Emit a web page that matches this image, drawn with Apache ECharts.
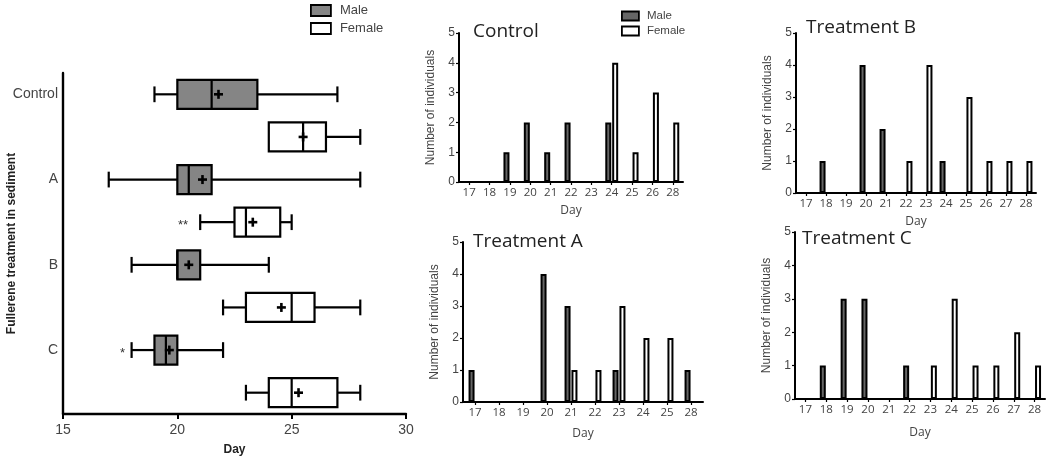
<!DOCTYPE html>
<html><head><meta charset="utf-8">
<script src="https://cdn.jsdelivr.net/npm/echarts@6/dist/echarts.min.js"></script>
<style>html,body{margin:0;padding:0;background:#fff}#c{width:1050px;height:465px}</style>
</head><body><div id="c"></div>
<script>
// ---- Box plot (left panel) ----
const boxGroups = ['Control', 'A', 'B', 'C'];
const boxSexes = ['Male', 'Female'];
// [min, Q1, median, Q3, max]
const maleBox = [[19, 20, 21.5, 23.5, 27], [17, 20, 20.5, 21.5, 28], [18, 20, 20, 21, 24], [18, 19, 19.5, 20, 22]];
const femaleBox = [[24, 24, 25.5, 26.5, 28], [21, 22.5, 23, 24.5, 25], [22, 23, 25, 26, 28], [23, 24, 25, 27, 28]];
const maleMean = [21.8, 21.1, 20.5, 19.65];
const femaleMean = [25.5, 23.3, 24.55, 25.3];
const sigGroups = ['A', 'C'];
const sigSexes = ['Female', 'Male'];
const sigText = ['**', '*'];
const sigDay = [20.25, 17.6];
const boxTicks = [15, 20, 25, 30];

// ---- Histograms ----
const controlDays = ['17', '18', '19', '20', '21', '22', '23', '24', '25', '26', '28'];
const controlMale = [0, 0, 1, 2, 1, 2, 0, 2, 0, 0, 0];
const controlFemale = [0, 0, 0, 0, 0, 0, 0, 4, 1, 3, 2];
const aDays = ['17', '18', '19', '20', '21', '22', '23', '24', '25', '28'];
const aMale = [1, 0, 0, 4, 3, 0, 1, 0, 0, 1];
const aFemale = [0, 0, 0, 0, 1, 1, 3, 2, 2, 0];
const bDays = ['17', '18', '19', '20', '21', '22', '23', '24', '25', '26', '27', '28'];
const bMale = [0, 1, 0, 4, 2, 0, 0, 1, 0, 0, 0, 0];
const bFemale = [0, 0, 0, 0, 0, 1, 4, 0, 3, 1, 1, 1];
const cDays = ['17', '18', '19', '20', '21', '22', '23', '24', '25', '26', '27', '28'];
const cMale = [0, 1, 3, 3, 0, 1, 0, 0, 0, 0, 0, 0];
const cFemale = [0, 0, 0, 0, 0, 0, 1, 3, 1, 1, 2, 1];
const countTicks = [0, 1, 2, 3, 4, 5];

const MALE_BOX = '#858585', MALE_BAR = '#666666';
const rowNames = [];
boxGroups.forEach(g => boxSexes.forEach(s => rowNames.push(g + '|' + s)));

function boxRender(params, api) {
  const row = api.value(0);
  const v = [1, 2, 3, 4, 5].map(i => api.value(i));
  const mean = api.value(6);
  const yc = api.coord([v[0], row])[1];
  const band = api.size([0, 1])[1];
  const bh = band * 0.68, ch = band * 0.37;
  const X = d => api.coord([d, row])[0];
  const st = { stroke: '#000', lineWidth: 2.2, fill: null };
  const kids = [];
  const line = (x1, y1, x2, y2, s) => kids.push({ type: 'line', shape: { x1, y1, x2, y2 }, style: s || st });
  if (v[0] < v[1]) { line(X(v[0]), yc, X(v[1]), yc); line(X(v[0]), yc - ch / 2, X(v[0]), yc + ch / 2); }
  if (v[4] > v[3]) { line(X(v[3]), yc, X(v[4]), yc); line(X(v[4]), yc - ch / 2, X(v[4]), yc + ch / 2); }
  kids.push({ type: 'rect', shape: { x: X(v[1]), y: yc - bh / 2, width: X(v[3]) - X(v[1]), height: bh },
    style: { fill: api.visual('color'), stroke: '#000', lineWidth: 2.2 } });
  line(X(v[2]), yc - bh / 2, X(v[2]), yc + bh / 2);
  const mx = X(mean), pst = { stroke: '#000', lineWidth: 2.6 };
  line(mx - 4.5, yc, mx + 4.5, yc, pst);
  line(mx, yc - 4.5, mx, yc + 4.5, pst);
  return { type: 'group', children: kids };
}

const maleData = boxGroups.map((g, i) => [rowNames.indexOf(g + '|Male'), ...maleBox[i], maleMean[i]]);
const femaleData = boxGroups.map((g, i) => [rowNames.indexOf(g + '|Female'), ...femaleBox[i], femaleMean[i]]);
const sigData = sigGroups.map((g, i) => [rowNames.indexOf(g + '|' + sigSexes[i]), sigDay[i], i]);

const nz = a => a.map(x => x === 0 ? null : x);

const hists = [
  { title: 'Control', days: controlDays, male: controlMale, female: controlFemale, left: 459, top: 33, width: 224, height: 149, titleTop: 22, titleLeft: 473, dayGap: 23 },
  { title: 'Treatment A', days: aDays, male: aMale, female: aFemale, left: 463, top: 242, width: 240, height: 160, titleTop: 232, titleLeft: 473, dayGap: 26 },
  { title: 'Treatment B', days: bDays, male: bMale, female: bFemale, left: 796, top: 33, width: 240, height: 160, titleTop: 18, titleLeft: 806, dayGap: 23 },
  { title: 'Treatment C', days: cDays, male: cMale, female: cFemale, left: 795, top: 232, width: 250, height: 167, titleTop: 229, titleLeft: 802, dayGap: 28 }
];

const grid = [{ left: 63, top: 73, width: 343, height: 341, outerBoundsMode: 'none', containLabel: false }];
const xAxis = [{
  gridIndex: 0, type: 'value', min: boxTicks[0], max: boxTicks[boxTicks.length - 1], interval: 5,
  name: 'Day', nameLocation: 'middle', nameGap: 30, nameMoveOverlap: false,
  nameTextStyle: { fontFamily: 'Liberation Sans', fontWeight: 'bold', fontSize: 12, color: '#222' },
  axisLine: { show: true, lineStyle: { color: '#000', width: 2.4 } },
  axisTick: { show: true, length: 5, lineStyle: { color: '#000', width: 2 } },
  axisLabel: { fontFamily: 'Liberation Sans', fontSize: 14, color: '#444', margin: 9 },
  splitLine: { show: false }
}];
const yAxis = [{
  gridIndex: 0, type: 'category', data: rowNames, inverse: true,
  name: 'Fullerene treatment in sediment', nameLocation: 'middle', nameGap: 45, nameMoveOverlap: false,
  nameTextStyle: { fontFamily: 'Liberation Sans', fontWeight: 'bold', fontSize: 12, color: '#222' },
  axisLine: { show: true, lineStyle: { color: '#000', width: 2.4 } },
  axisTick: { show: false },
  axisLabel: { fontFamily: 'Liberation Sans', fontSize: 14, color: '#444', margin: 5, interval: 0,
    formatter: v => v.split('|')[1] === 'Male' ? v.split('|')[0] : '' },
  splitLine: { show: false }
}];
const series = [
  { type: 'custom', name: 'Male', xAxisIndex: 0, yAxisIndex: 0, renderItem: boxRender, data: maleData,
    itemStyle: { color: MALE_BOX, borderColor: '#000', borderWidth: 1.5 }, encode: { x: [1, 2, 3, 4, 5, 6], y: 0 }, z: 3 },
  { type: 'custom', name: 'Female', xAxisIndex: 0, yAxisIndex: 0, renderItem: boxRender, data: femaleData,
    itemStyle: { color: '#fff', borderColor: '#000', borderWidth: 1.5 }, encode: { x: [1, 2, 3, 4, 5, 6], y: 0 }, z: 3 },
  { type: 'custom', name: 'sig', xAxisIndex: 0, yAxisIndex: 0, data: sigData, encode: { x: 1, y: 0 }, silent: true,
    renderItem: (p, api) => {
      const pt = api.coord([api.value(1), api.value(0)]);
      return { type: 'text', x: pt[0], y: pt[1] + 3, style: { text: sigText[api.value(2)], fill: '#333',
        font: '13px "Liberation Sans"', align: 'center', verticalAlign: 'middle' } };
    } }
];
const title = [];
hists.forEach((h, k) => {
  const gi = k + 1;
  grid.push({ left: h.left, top: h.top, width: h.width, height: h.height, outerBoundsMode: 'none', containLabel: false });
  xAxis.push({
    gridIndex: gi, type: 'category', data: h.days,
    name: 'Day', nameLocation: 'middle', nameGap: h.dayGap, nameMoveOverlap: false,
    nameTextStyle: { fontFamily: 'Open Sans', fontSize: 12, color: '#444' },
    axisLine: { show: true, lineStyle: { color: '#000', width: 2 } },
    axisTick: { show: true, alignWithLabel: true, length: 3, lineStyle: { color: '#000', width: 1.2 } },
    axisLabel: { fontFamily: 'Open Sans', fontSize: 11.5, color: '#444', margin: 5, interval: 0 },
    splitLine: { show: false }
  });
  yAxis.push({
    gridIndex: gi, type: 'value', min: countTicks[0], max: countTicks[countTicks.length - 1], interval: 1,
    name: 'Number of individuals', nameLocation: 'middle', nameGap: 22, nameMoveOverlap: false,
    nameTextStyle: { fontFamily: 'Liberation Sans', fontSize: 12, color: '#444' },
    axisLine: { show: true, lineStyle: { color: '#000', width: 2 } },
    axisTick: { show: true, length: 3, lineStyle: { color: '#000', width: 1.2 } },
    axisLabel: { fontFamily: 'Liberation Sans', fontSize: 12, color: '#444', margin: 4 },
    splitLine: { show: false }
  });
  series.push({ type: 'bar', name: 'Male', xAxisIndex: gi, yAxisIndex: gi, data: nz(h.male), barWidth: 6, barGap: '15%',
    itemStyle: { color: MALE_BAR, borderColor: '#000', borderWidth: 2 } });
  series.push({ type: 'bar', name: 'Female', xAxisIndex: gi, yAxisIndex: gi, data: nz(h.female), barWidth: 6, barGap: '15%',
    itemStyle: { color: '#fff', borderColor: '#000', borderWidth: 2 } });
  title.push({ text: h.title, left: h.titleLeft, top: h.titleTop, padding: 0,
    textStyle: { fontFamily: 'Open Sans', fontSize: 19, fontWeight: 'normal', color: '#222' } });
});

const legendItems = (c) => [
  { name: 'Male', itemStyle: { color: c, borderColor: '#000', borderWidth: 1.8 } },
  { name: 'Female', itemStyle: { color: '#fff', borderColor: '#000', borderWidth: 1.8 } }
];
const legend = [
  { left: 310, top: 4, orient: 'vertical', itemWidth: 20, itemHeight: 11, itemGap: 5, padding: 0, selectedMode: false,
    icon: 'rect', data: legendItems(MALE_BOX),
    textStyle: { fontFamily: 'Liberation Sans', fontSize: 13, color: '#444', padding: [0, 0, 0, 4] } },
  { left: 621, top: 10, orient: 'vertical', itemWidth: 17, itemHeight: 9, itemGap: 3, padding: 0, selectedMode: false,
    icon: 'rect', data: legendItems(MALE_BAR),
    textStyle: { fontFamily: 'Liberation Sans', fontSize: 11.5, color: '#444', padding: [0, 0, 0, 3] } }
];

const chart = echarts.init(document.getElementById('c'));
chart.setOption({ animation: false, backgroundColor: '#fff', title, legend, grid, xAxis, yAxis, series });
</script></body></html>
